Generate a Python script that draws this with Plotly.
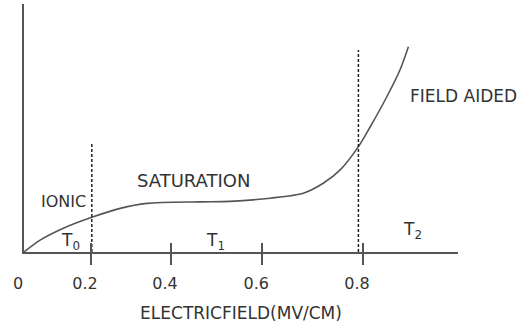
import plotly.graph_objects as go

# ---- data (schematic units: x in drawing units along the field axis, y normalized current) ----
curve_x = [0.0, 0.038, 0.093, 0.160, 0.227, 0.290, 0.415, 0.486, 0.581, 0.659, 0.706, 0.746, 0.789, 0.817, 0.856, 0.887, 0.907]
curve_y = [0.0, 0.048, 0.096, 0.140, 0.176, 0.196, 0.202, 0.204, 0.217, 0.237, 0.277, 0.331, 0.425, 0.505, 0.626, 0.734, 0.828]

boundary_x = [0.160, 0.789]          # dashed region boundaries
boundary_top = [0.444, 0.815]        # height of dashed lines

tick_positions = [0.0, 0.158, 0.347, 0.562, 0.800]
tick_labels = ["0", "0.2", "0.4", "0.6", "0.8"]

region_labels = ["IONIC", "SATURATION", "FIELD AIDED"]
region_label_x = [0.093, 0.401, 1.037]
region_label_y = [0.202, 0.290, 0.629]

temp_labels = ["T<sub>0</sub>", "T<sub>1</sub>", "T<sub>2</sub>"]
temp_label_x = [0.109, 0.453, 0.916]
temp_label_y = [0.042, 0.042, 0.085]

x_title = "ELECTRICFIELD(MV/CM)"
X_MAX = 1.024

FONT = "DejaVu Sans"
TXT = "#333333"
LINE = "#555555"

fig = go.Figure()

fig.add_trace(go.Scatter(
    x=curve_x, y=curve_y, mode="lines",
    line=dict(color=LINE, width=1.6, shape="spline", smoothing=0.8),
    hoverinfo="skip", showlegend=False,
))

for bx, bt in zip(boundary_x, boundary_top):
    fig.add_trace(go.Scatter(
        x=[bx, bx], y=[0, bt], mode="lines",
        line=dict(color="#222222", width=1.5, dash="3px,2px"),
        hoverinfo="skip", showlegend=False,
    ))

sizes = [16, 18, 17]
for t, x, y, s in zip(region_labels, region_label_x, region_label_y, sizes):
    fig.add_annotation(x=x / X_MAX, xref="paper", y=y, yref="y", text=t, showarrow=False,
                       font=dict(family=FONT, size=s, color=TXT),
                       xanchor="center", yanchor="middle")

for t, x, y in zip(temp_labels, temp_label_x, temp_label_y):
    fig.add_annotation(x=x, y=y, text=t, showarrow=False,
                       font=dict(family=FONT, size=17, color=TXT),
                       xanchor="center", yanchor="middle")

fig.update_layout(
    width=531, height=323,
    margin=dict(l=24, r=73, t=4, b=71),
    paper_bgcolor="white", plot_bgcolor="white",
    showlegend=False,
    xaxis=dict(
        range=[0, X_MAX], showgrid=False, zeroline=False,
        showline=True, linecolor=LINE, linewidth=1.6,
        tickmode="array", tickvals=tick_positions, ticktext=tick_labels,
        ticks="inside", ticklen=9, tickwidth=1.5, tickcolor=LINE,
        ticklabelshift=-6, ticklabelstandoff=16,
        tickfont=dict(family=FONT, size=16, color=TXT),
        minor=dict(tickmode="array", tickvals=tick_positions[1:],
                   ticks="outside", ticklen=11, tickwidth=1.5, tickcolor=LINE,
                   showgrid=False),
        title=dict(text=x_title, font=dict(family=FONT, size=17, color=TXT), standoff=15),
    ),
    yaxis=dict(
        range=[0, 1], showgrid=False, zeroline=False,
        showline=True, linecolor=LINE, linewidth=1.6,
        showticklabels=False, ticks="",
    ),
)

fig.write_html("out.html", config={"displayModeBar": False},
               post_script="document.body.style.margin='0';")
